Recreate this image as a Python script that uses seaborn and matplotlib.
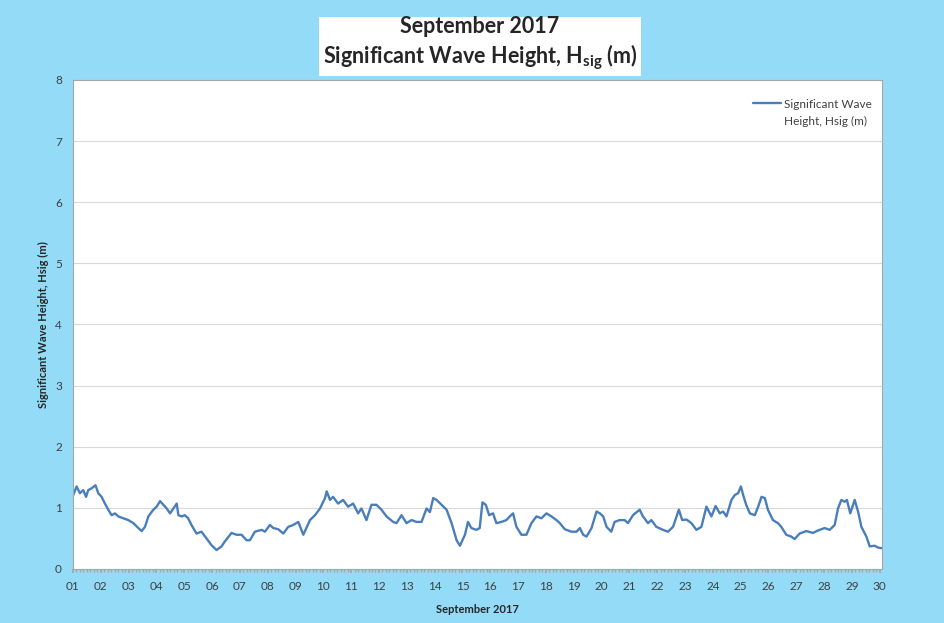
import matplotlib
matplotlib.use("Agg")
import matplotlib.pyplot as plt
import seaborn as sns
import pandas as pd
import numpy as np
from matplotlib.ticker import MultipleLocator, FixedLocator
from matplotlib.legend_handler import HandlerLine2D

# time in days of September 2017 (1.0 = 01 00:00) and Hsig (m)
day = [
    1.01, 1.13, 1.25, 1.37, 1.47, 1.55, 1.67, 1.81, 1.91, 2.03,
    2.15, 2.27, 2.39, 2.51, 2.63, 2.81, 2.99, 3.17, 3.35, 3.47,
    3.59, 3.71, 3.89, 4.01, 4.13, 4.25, 4.37, 4.49, 4.61, 4.73,
    4.79, 4.91, 5.02, 5.14, 5.26, 5.44, 5.62, 5.80, 5.98, 6.16,
    6.34, 6.46, 6.70, 6.88, 7.06, 7.24, 7.36, 7.54, 7.78, 7.90,
    8.08, 8.20, 8.38, 8.56, 8.74, 8.92, 9.10, 9.28, 9.52, 9.70,
    9.88, 10.06, 10.12, 10.24, 10.35, 10.53, 10.71, 10.89, 11.07, 11.25,
    11.37, 11.55, 11.73, 11.91, 12.09, 12.27, 12.51, 12.63, 12.81, 12.99,
    13.17, 13.35, 13.53, 13.71, 13.83, 13.95, 14.07, 14.25, 14.43, 14.61,
    14.79, 14.91, 15.09, 15.20, 15.32, 15.50, 15.62, 15.72, 15.84, 15.96,
    16.10, 16.22, 16.40, 16.58, 16.70, 16.82, 16.94, 17.12, 17.30, 17.48,
    17.66, 17.84, 18.02, 18.20, 18.38, 18.50, 18.68, 18.92, 19.10, 19.22,
    19.34, 19.46, 19.64, 19.82, 19.94, 20.06, 20.18, 20.35, 20.47, 20.65,
    20.83, 20.95, 21.13, 21.37, 21.49, 21.67, 21.79, 21.97, 22.21, 22.39,
    22.57, 22.78, 22.90, 23.05, 23.23, 23.41, 23.59, 23.77, 23.95, 24.10,
    24.25, 24.37, 24.49, 24.67, 24.79, 24.91, 25.01, 25.09, 25.20, 25.33,
    25.51, 25.63, 25.75, 25.87, 25.98, 26.16, 26.34, 26.46, 26.64, 26.82,
    26.94, 27.12, 27.36, 27.60, 27.78, 28.02, 28.20, 28.38, 28.50, 28.62,
    28.74, 28.82, 28.94, 29.10, 29.22, 29.34, 29.52, 29.64, 29.82, 29.94,
    30.06,
]
hsig = [
    1.21, 1.35, 1.24, 1.29, 1.18, 1.29, 1.32, 1.37, 1.24, 1.18,
    1.07, 0.97, 0.88, 0.91, 0.86, 0.83, 0.80, 0.75, 0.67, 0.62,
    0.69, 0.86, 0.97, 1.02, 1.11, 1.05, 0.99, 0.91, 0.99, 1.07,
    0.88, 0.86, 0.88, 0.83, 0.72, 0.58, 0.61, 0.50, 0.39, 0.31,
    0.37, 0.45, 0.59, 0.56, 0.56, 0.47, 0.47, 0.61, 0.64, 0.61,
    0.72, 0.67, 0.65, 0.58, 0.69, 0.72, 0.77, 0.56, 0.80, 0.88,
    0.99, 1.16, 1.27, 1.13, 1.18, 1.07, 1.13, 1.02, 1.07, 0.91,
    0.99, 0.80, 1.05, 1.05, 0.97, 0.86, 0.77, 0.75, 0.88, 0.75,
    0.80, 0.77, 0.77, 0.99, 0.93, 1.16, 1.13, 1.05, 0.97, 0.75,
    0.47, 0.38, 0.56, 0.77, 0.67, 0.64, 0.67, 1.09, 1.05, 0.88,
    0.91, 0.75, 0.77, 0.80, 0.86, 0.91, 0.69, 0.56, 0.56, 0.75,
    0.86, 0.83, 0.91, 0.86, 0.80, 0.75, 0.65, 0.61, 0.61, 0.67,
    0.56, 0.53, 0.67, 0.94, 0.91, 0.86, 0.69, 0.61, 0.77, 0.80,
    0.80, 0.75, 0.88, 0.97, 0.86, 0.75, 0.80, 0.69, 0.64, 0.61,
    0.69, 0.97, 0.80, 0.81, 0.75, 0.64, 0.69, 1.02, 0.86, 1.03,
    0.91, 0.94, 0.86, 1.13, 1.21, 1.24, 1.35, 1.21, 1.05, 0.91,
    0.88, 1.02, 1.18, 1.16, 0.97, 0.80, 0.75, 0.69, 0.56, 0.53,
    0.49, 0.58, 0.62, 0.59, 0.63, 0.67, 0.64, 0.72, 0.99, 1.13,
    1.10, 1.13, 0.91, 1.13, 0.94, 0.69, 0.53, 0.37, 0.38, 0.35,
    0.34,
]
day_labels = ["%02d" % d for d in range(1, 31)]

df = pd.DataFrame({"day": day, "hsig": hsig})


# legend handle next to the first line of a two-line label (as in Excel)
class FirstLineHandler(HandlerLine2D):
    def create_artists(self, legend, orig_handle, xdescent, ydescent, width,
                       height, fontsize, trans):
        arts = super().create_artists(legend, orig_handle, xdescent, ydescent,
                                      width, height, fontsize, trans)
        for a in arts:
            a.set_ydata(np.asarray(a.get_ydata()) + 0.8 * fontsize)
        return arts


sns.set_theme(style="white")
plt.rcParams['font.family'] = ['Lato', 'DejaVu Sans']
plt.rcParams['mathtext.default'] = 'regular'

bg = '#93DBF6'
fig = plt.figure(figsize=(9.45, 6.23), dpi=100, facecolor=bg)
ax = fig.add_axes([0.0772, 0.0867, 0.8561, 0.7849])
ax.set_facecolor('white')

sns.lineplot(data=df, x='day', y='hsig', ax=ax, color='#4A7EBB', linewidth=1.7,
             label='Significant Wave\nHeight, Hsig (m)')

ax.set_xlim(1, 30.08)
ax.set_ylim(0, 8)
ax.yaxis.set_major_locator(MultipleLocator(1))
ax.xaxis.set_major_locator(FixedLocator(range(1, 31)))
ax.xaxis.set_minor_locator(MultipleLocator(0.125))
ax.set_xticklabels(day_labels)
ax.grid(axis='y', color='#D9D9D9', linewidth=0.8)
ax.set_axisbelow(True)

for s in ax.spines.values():
    s.set_color('#A6A6A6')
    s.set_linewidth(0.8)

ax.tick_params(axis='x', which='major', length=3, color='#A6A6A6', pad=6,
               labelsize=8.5, labelcolor='#404040', bottom=True)
ax.tick_params(axis='x', which='minor', length=2, color='#A6A6A6', bottom=True)
ax.tick_params(axis='y', length=0, pad=8, labelsize=8.5, labelcolor='#404040')

ax.set_xlabel('September 2017', fontsize=8, fontweight='bold', labelpad=8)
ax.set_ylabel('Significant Wave Height, Hsig (m)', fontsize=8, fontweight='bold',
              labelpad=4)

leg = ax.legend(loc='upper left', bbox_to_anchor=(0.84, 0.962), frameon=False,
                fontsize=8.5, handlelength=2.4, handletextpad=0.3,
                borderpad=0, borderaxespad=0,
                handler_map={plt.Line2D: FirstLineHandler()})
for t in leg.get_texts():
    t.set_color('#404040')
    t.set_linespacing(1.65)

fig.text(0.508, 0.929,
         'September 2017\nSignificant Wave Height, H$_{sig}$ (m)',
         ha='center', va='center', fontsize=15.5, fontweight='bold',
         linespacing=1.25,
         bbox=dict(boxstyle='square,pad=0.18', facecolor='white', edgecolor='none'))

fig.savefig('out.png', dpi=100, facecolor=bg)
